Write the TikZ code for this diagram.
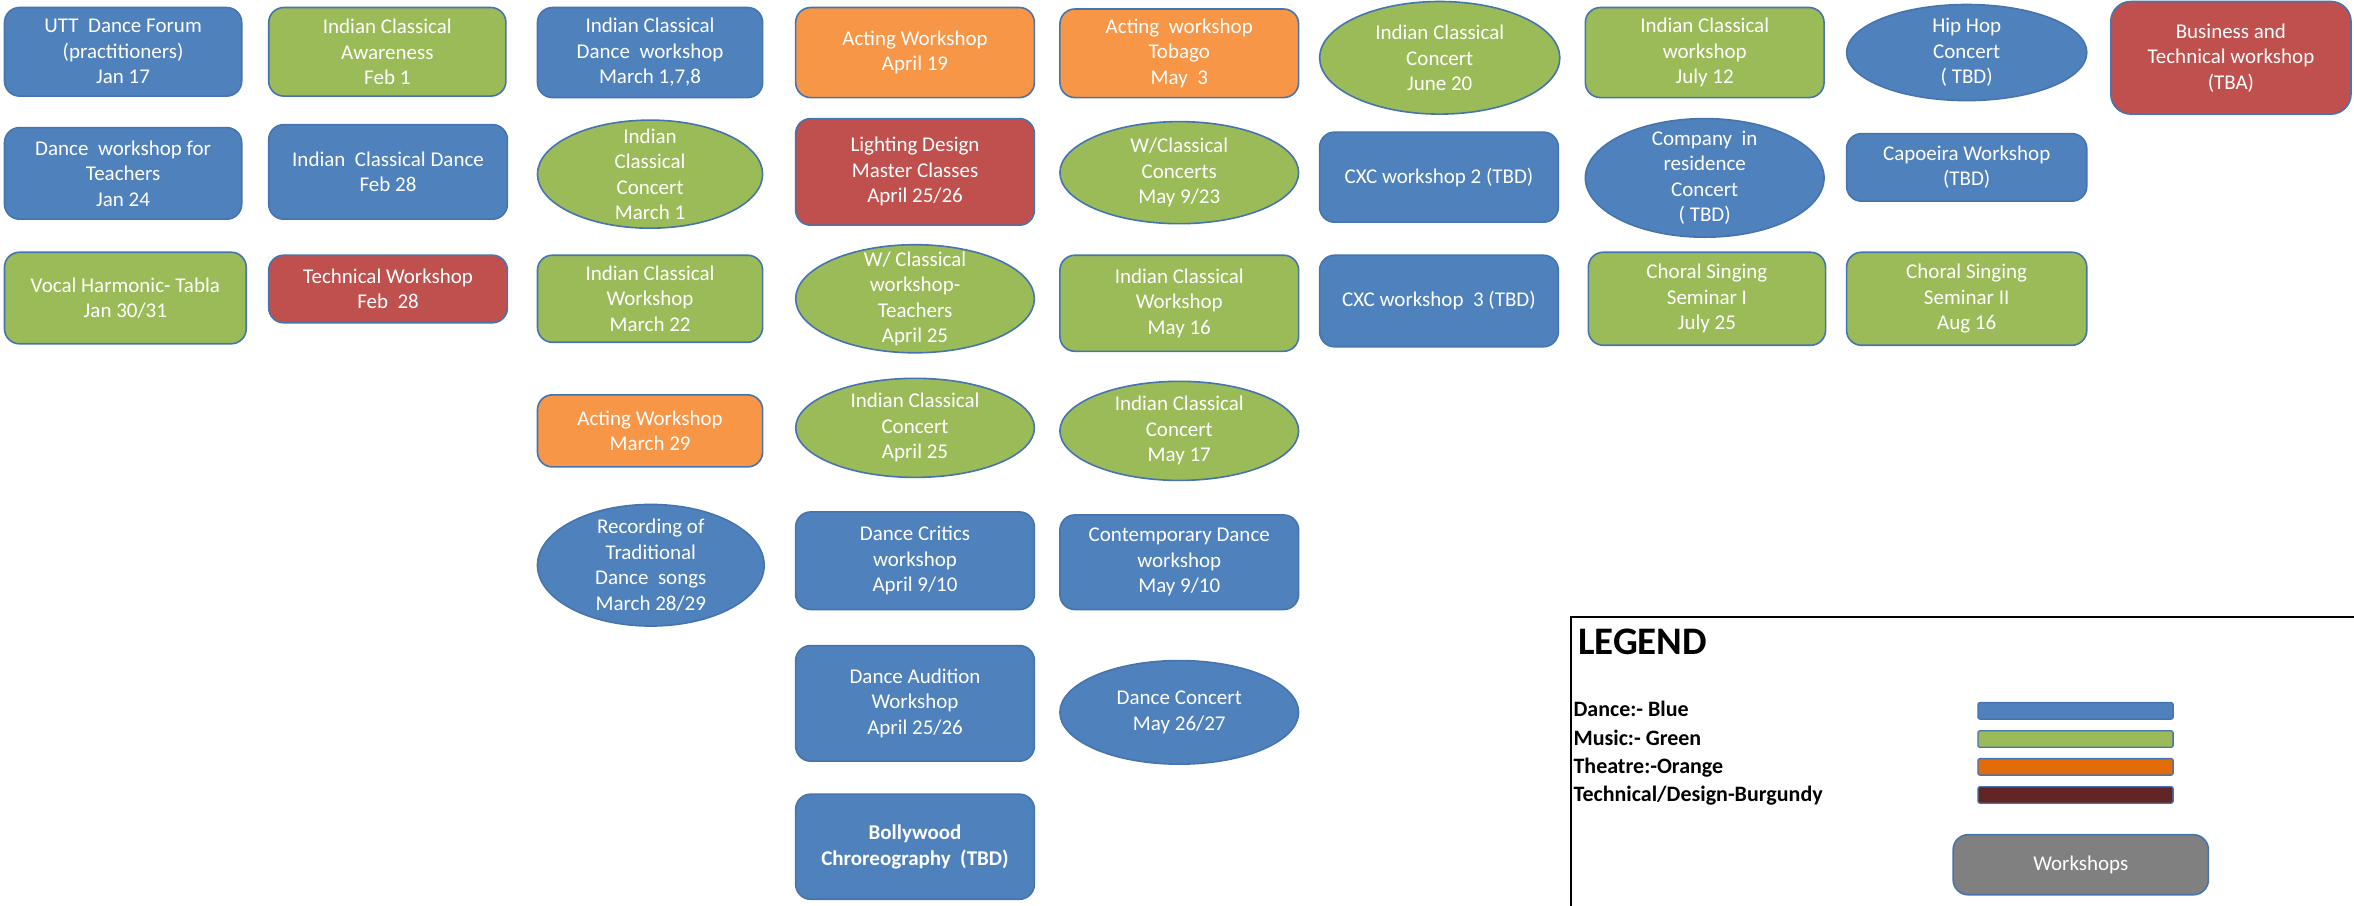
\documentclass[tikz,border=0pt]{standalone}
\usepackage{fontspec}
\setmainfont{Carlito}
\usetikzlibrary{shapes.geometric}
\definecolor{cBlue}{HTML}{4F81BD}
\definecolor{cGreen}{HTML}{9BBB59}
\definecolor{cOrange}{HTML}{F79646}
\definecolor{cRed}{HTML}{C0504D}
\definecolor{cEdge}{HTML}{4674AE}
\definecolor{lOrange}{HTML}{E36C09}
\definecolor{lBurg}{HTML}{632523}
\definecolor{cGray}{HTML}{808080}
\newcommand\evFont{\fontsize{21}{25.5}\selectfont}
\newcommand\evnode[7]{%
 \pgfmathsetmacro\evX{(#3+#5)/2}%
 \pgfmathsetmacro\evY{(#4+#6)/2}%
 \pgfmathsetmacro\evW{(#5-#3)*1.5013}%
 \pgfmathsetmacro\evH{(#6-#4)*1.5013}%
 \node[#2, minimum width=\evW pt, minimum height=\evH pt] (#1) at (\evX,\evY) {};%
 \node[evtext] (#1t) at (#1.center) {#7};%
}
\tikzset{
 evshape/.style={draw=cEdge, line width=1.6pt, inner sep=0pt},
 rbox/.style={evshape, rectangle, rounded corners=15pt},
 ell/.style={evshape, ellipse},
 dance/.style={fill=cBlue},
 music/.style={fill=cGreen},
 theatre/.style={fill=cOrange},
 tech/.style={fill=cRed},
 evtext/.style={text=white, align=center, inner sep=0pt, font=\evFont},
 legtext/.style={anchor=base west, inner sep=0pt, font=\fontsize{22}{25}\selectfont\bfseries},
 legbar/.style={draw=cEdge, line width=1.3pt, rounded corners=2pt, minimum width=195.2pt, minimum height=16.5pt, inner sep=0pt}
}
\begin{document}
\begin{tikzpicture}[x=1.5013pt,y=-1.5013pt]
\useasboundingbox (0,0) rectangle (1568,603);
% column 1
\evnode{utt}{rbox,dance}{3}{5}{161}{64}{UTT\ \ Dance Forum\\(practitioners)\\Jan 17}
\evnode{dwt}{rbox,dance}{3}{85}{161}{146}{Dance\ \ workshop for\\Teachers\\Jan 24}
\evnode{vht}{rbox,music}{3}{168}{164}{229}{Vocal Harmonic- Tabla\\Jan 30/31}
% column 2
\evnode{ica}{rbox,music}{179}{5}{337}{64}{Indian Classical\\Awareness\\Feb 1}
\evnode{icd}{rbox,dance}{179}{83}{338}{146}{Indian\ \ Classical Dance\\Feb 28}
\evnode{tw}{rbox,tech}{179}{170}{338}{215}{Technical Workshop\\Feb\ \ 28}
% column 3
\evnode{icdw}{rbox,dance}{358}{5}{508}{65}{Indian Classical\\Dance\ \ workshop\\March 1,7,8}
\evnode{iccm}{ell,music}{358}{80}{508}{152}{Indian\\Classical\\Concert\\March 1}
\evnode{icwm}{rbox,music}{358}{170}{508}{228}{Indian Classical\\Workshop\\March 22}
\evnode{awm}{rbox,theatre}{358}{263}{508}{311}{Acting Workshop\\March 29}
\evnode{rec}{ell,dance}{358}{336}{509}{417}{Recording of\\Traditional\\Dance\ \ songs\\March 28/29}
% column 4
\evnode{awa}{rbox,theatre}{530}{5}{689}{65}{Acting Workshop\\April 19}
\evnode{ldm}{rbox,tech}{530}{79}{689}{150}{Lighting Design\\Master Classes\\April 25/26}
\evnode{wct}{ell,music}{530}{163}{689}{235}{W/ Classical\\workshop-\\Teachers\\April 25}
\evnode{icca}{ell,music}{530}{252}{689}{318}{Indian Classical\\Concert\\April 25}
\evnode{dcw}{rbox,dance}{530}{341}{689}{406}{Dance Critics\\workshop\\April 9/10}
\evnode{daw}{rbox,dance}{530}{430}{689}{507}{Dance Audition\\Workshop\\April 25/26}
\evnode{bol}{rbox,dance}{530}{529}{689}{599}{\bfseries Bollywood\\\bfseries Chroreography\ \ (TBD)}
% column 5
\evnode{awt}{rbox,theatre}{706}{6}{865}{65}{Acting\ \ workshop\\Tobago\\May\ \ 3}
\evnode{wcc}{ell,music}{706}{81}{865}{149}{W/Classical\\Concerts\\May 9/23}
\evnode{icwmay}{rbox,music}{706}{170}{865}{234}{Indian Classical\\Workshop\\May 16}
\evnode{iccmay}{ell,music}{706}{254}{865}{320}{Indian Classical\\Concert\\May 17}
\evnode{cdw}{rbox,dance}{706}{343}{865}{406}{Contemporary Dance\\workshop\\May 9/10}
\evnode{dcon}{ell,dance}{706}{440}{865}{509}{Dance Concert\\May 26/27}
% column 6
\evnode{iccj}{ell,music}{879}{1}{1039}{76}{Indian Classical\\Concert\\June 20}
\evnode{cxc2}{rbox,dance}{879}{88}{1038}{148}{CXC workshop 2 (TBD)}
\evnode{cxc3}{rbox,dance}{879}{170}{1038}{231}{CXC workshop\ \ 3 (TBD)}
% column 7
\evnode{icwj}{rbox,music}{1056}{5}{1215}{65}{Indian Classical\\workshop\\July 12}
\evnode{cir}{ell,dance}{1056}{79}{1215}{158}{Company\ \ in\\residence\\Concert\\( TBD)}
\evnode{cs1}{rbox,music}{1058}{168}{1216}{230}{Choral Singing\\Seminar I\\July 25}
% column 8
\evnode{hh}{ell,dance}{1230}{3}{1390}{67}{Hip Hop\\Concert\\( TBD)}
\evnode{cap}{rbox,dance}{1230}{89}{1390}{134}{Capoeira Workshop\\(TBD)}
\evnode{cs2}{rbox,music}{1230}{168}{1390}{230}{Choral Singing\\Seminar II\\Aug 16}
% column 9
\evnode{bus}{rbox,tech,rounded corners=20pt}{1406}{1}{1566}{76}{Business and\\Technical workshop\\(TBA)}
% legend
\draw[line width=2.2pt, black] (1580,411) -- (1046.5,411) -- (1046.5,620);
\node[anchor=base west, inner sep=0pt, font=\fontsize{39}{41}\selectfont\bfseries] (legtitle) at (1051,436) {LEGEND};
\node[legtext] (ldance) at (1048,477.5) {Dance:- Blue};
\node[legtext] (lmusic) at (1048,496.5) {Music:- Green};
\node[legtext] (ltheatre) at (1048,515) {Theatre:-Orange};
\node[legtext] (ltech) at (1048,534) {Technical/Design-Burgundy};
\node[legbar, fill=cBlue] (bdance) at (1382.5,473.5) {};
\node[legbar, fill=cGreen] (bmusic) at (1382.5,492.3) {};
\node[legbar, fill=lOrange] (btheatre) at (1382.5,510.8) {};
\node[legbar, fill=lBurg] (btech) at (1382.5,529.5) {};
\evnode{wks}{rbox,fill=cGray}{1301}{556}{1471}{596}{Workshops}
\end{tikzpicture}
\end{document}
